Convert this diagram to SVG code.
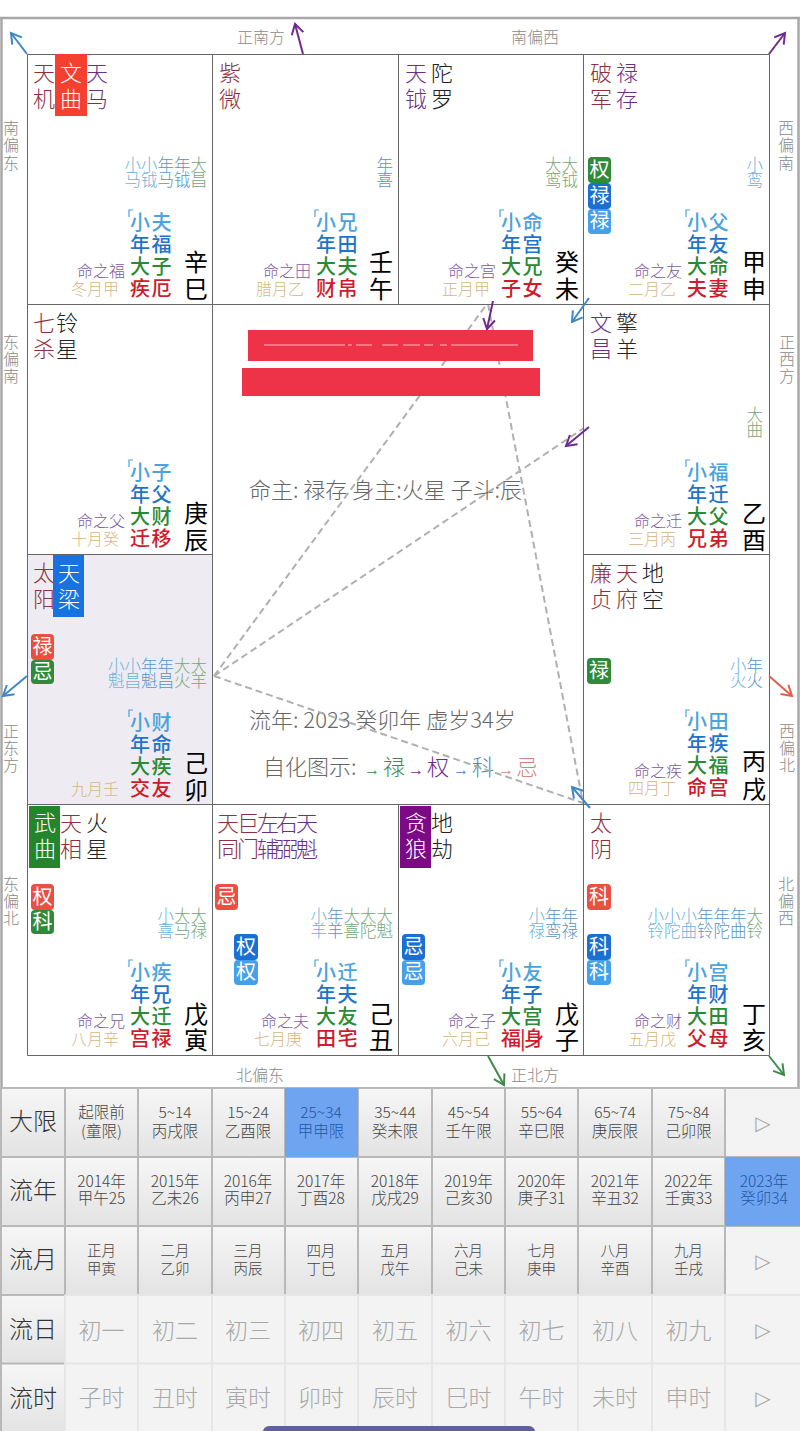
<svg xmlns="http://www.w3.org/2000/svg" width="800" height="1431" viewBox="0 0 800 1431">
<style>
text{font-family:"Noto Sans CJK SC","Noto Sans",sans-serif}
.st{font-size:22px;font-weight:300}
.r{fill:#8e3040}.p{fill:#6c2f86}.k{fill:#222}.w{fill:#fff}
.sm{font-size:16.5px;text-anchor:end;font-weight:300}
.x{fill:#6db2dc}.n{fill:#5a94c8}.d{fill:#7aa67a}
.s1,.s2,.s3,.s4{font-size:20px;letter-spacing:1.5px;font-weight:500}
.s1{fill:#4ba3dd}.s2{fill:#1f74c9}.s3{fill:#2b8a35}.s4{fill:#cf1b2c}
.gz{font-size:24px;fill:#000}
.ml{font-size:16px;fill:#7c5a9c;font-weight:300}
.mo{font-size:16px;fill:#d9b57f;font-weight:300}
.br{fill:none;stroke:#4ba3dd;stroke-width:1.2}
.b{font-size:20px;fill:#fff;text-anchor:middle}
.dir{font-size:16px;fill:#8a8a8a;font-weight:300}
.ct{font-size:22px;fill:#666;font-weight:300}
.arr{font-size:16px;font-family:"Liberation Sans",sans-serif}
.bG{fill:#2f8b3b}.bB{fill:#1c6fd2}.bL{fill:#45a0ea}.bR{fill:#ea4f43}
.conn{fill:none;stroke-width:2}
.dash{stroke:#b0b0b0;stroke-dasharray:7 4}
.hd{font-size:24px;fill:#333;text-anchor:middle;font-weight:300}
.t{font-size:15.5px;fill:#444;text-anchor:middle;font-weight:300}
.t3{font-size:14.5px;fill:#444;text-anchor:middle;font-weight:300}
.tb{font-size:15.5px;fill:#1f56a8;text-anchor:middle;font-weight:300}
.off{font-size:23px;fill:#a8a8a8;text-anchor:middle;font-weight:300}
.tri{font-size:20px;fill:#a8a8a8;text-anchor:middle;font-family:"DejaVu Sans",sans-serif}
</style>
<defs>
<linearGradient id="btn" x1="0" y1="0" x2="0" y2="1"><stop offset="0" stop-color="#f6f6f6"/><stop offset="1" stop-color="#e3e3e3"/></linearGradient>
<marker id="mB" markerWidth="16" markerHeight="16" refX="12" refY="8" orient="auto" markerUnits="userSpaceOnUse"><path d="M2 2L12 8L2 14" fill="none" stroke="#3f86c4" stroke-width="2"/></marker>
<marker id="mP" markerWidth="16" markerHeight="16" refX="12" refY="8" orient="auto" markerUnits="userSpaceOnUse"><path d="M2 2L12 8L2 14" fill="none" stroke="#6e2a8c" stroke-width="2"/></marker>
<marker id="mG" markerWidth="16" markerHeight="16" refX="12" refY="8" orient="auto" markerUnits="userSpaceOnUse"><path d="M2 2L12 8L2 14" fill="none" stroke="#3f8a4a" stroke-width="2"/></marker>
<marker id="mR" markerWidth="16" markerHeight="16" refX="12" refY="8" orient="auto" markerUnits="userSpaceOnUse"><path d="M2 2L12 8L2 14" fill="none" stroke="#e0604f" stroke-width="2"/></marker>
</defs>
<rect width="800" height="1431" fill="#fff"/>
<path d="M1.5 18V1088M798.5 18V1088M0 18H800" fill="none" stroke="#a8a8a8" stroke-width="2.5"/>

<g id="grid-bg"><rect x="28" y="555" width="184" height="249" fill="#eeecf2"/></g>

<g id="direction-labels" class="dir">
<text x="237" y="43">正南方</text><text x="511" y="43">南偏西</text>
<text x="236" y="1081">北偏东</text><text x="511" y="1081">正北方</text>
<text x="3 3 3" y="134 151 169">南偏东</text>
<text x="3 3 3" y="348 365 382">东偏南</text>
<text x="3 3 3" y="737 754 771">正东方</text>
<text x="3 3 3" y="890 907 924">东偏北</text>
<text x="778 778 778" y="134 151 169">西偏南</text>
<text x="779 779 779" y="348 365 382">正西方</text>
<text x="779 779 779" y="737 754 771">西偏北</text>
<text x="778 778 778" y="890 907 924">北偏西</text>
</g>

<g id="center">
<text class="ct" x="249" y="498">命主: 禄存 身主:火星 子斗:辰</text>
<text class="ct" x="249" y="728">流年: 2023 癸卯年 虚岁34岁</text>
<text class="ct" x="263" y="775">自化图示:</text>
<text class="arr" x="364" y="775" fill="#3f8a4a">→</text><text class="st" x="383" y="775" fill="#3f8a4a">禄</text>
<text class="arr" x="408" y="775" fill="#6e2a8c">→</text><text class="st" x="427" y="775" fill="#6e2a8c">权</text>
<text class="arr" x="453" y="775" fill="#3f86c4">→</text><text class="st" x="472" y="775" fill="#3f86c4">科</text>
<text class="arr" x="498" y="775" fill="#d8837c">→</text><text class="st" x="516" y="775" fill="#d8837c">忌</text>
</g>

<g id="dashes" class="conn dash">
<path d="M214 676L487 304"/><path d="M214 676L584 428"/><path d="M214 676L583 803"/><path d="M488 304L583 803"/>
</g>

<g id="redactions">
<rect x="248" y="330" width="285" height="31" fill="#ee3348"/>
<rect x="242" y="368" width="298" height="28" fill="#ee3348"/>
<path d="M264 345H345M348 345H352M356 345H372M382 345H398M403 345H420M424 345H433M440 345H447M451 345H518" fill="none" stroke="#f9b9bd" stroke-width="1"/>
</g>

<g id="grid-lines"><path d="M27.5 54.5H769.5V1055.5H27.5ZM212.5 54.5V1055M398.5 54.5V304M583.5 54.5V1055M398.5 804.5V1055M27.5 304.5H769.5M27.5 554.5H212.5M583.5 554.5H769.5M27.5 804.5H769.5" fill="none" stroke="#666" stroke-width="1"/></g>

<g id="palace-si" transform="translate(27,54)">
<rect x="28" y="0" width="32" height="62" fill="#f5402f"/>
<text class="st r" x="6" y="27">天</text><text class="st r" x="6" y="53">机</text>
<text class="st w" x="33" y="27">文</text><text class="st w" x="33" y="53">曲</text>
<text class="st p" x="59" y="27">天</text><text class="st p" x="59" y="53">马</text>
<text class="sm" x="180" y="117"><tspan class="x">小小</tspan><tspan class="n">年年</tspan><tspan class="d">大</tspan></text>
<text class="sm" x="180" y="132"><tspan class="x">马钺</tspan><tspan class="n">马钺</tspan><tspan class="d">昌</tspan></text>
<path class="br" d="M106 156H102V163"/>
<text class="s1" x="103" y="176">小夫</text><text class="s2" x="103" y="198">年福</text><text class="s3" x="103" y="220">大子</text><text class="s4" x="103" y="242">疾厄</text>
<text class="gz" x="157" y="217">辛</text><text class="gz" x="157" y="244">巳</text>
<text class="ml" x="50" y="223">命之福</text><text class="mo" x="44" y="241">冬月甲</text>
</g>

<g id="palace-wu" transform="translate(212,54)">
<text class="st r" x="7" y="27">紫</text><text class="st r" x="7" y="53">微</text>
<text class="sm" x="181" y="117"><tspan class="n">年</tspan></text>
<text class="sm" x="181" y="132"><tspan class="n">喜</tspan></text>
<path class="br" d="M107 156H103V163"/>
<text class="s1" x="104" y="176">小兄</text><text class="s2" x="104" y="198">年田</text><text class="s3" x="104" y="220">大夫</text><text class="s4" x="104" y="242">财帛</text>
<text class="gz" x="157" y="217">壬</text><text class="gz" x="157" y="244">午</text>
<text class="ml" x="51" y="223">命之田</text><text class="mo" x="44" y="241">腊月乙</text>
</g>

<g id="palace-wei" transform="translate(398,54)">
<text class="st p" x="7" y="27">天</text><text class="st p" x="7" y="53">钺</text>
<text class="st k" x="33" y="27">陀</text><text class="st k" x="33" y="53">罗</text>
<text class="sm" x="180" y="117"><tspan class="d">大大</tspan></text>
<text class="sm" x="180" y="132"><tspan class="d">鸾钺</tspan></text>
<path class="br" d="M106 156H102V163"/>
<text class="s1" x="103" y="176">小命</text><text class="s2" x="103" y="198">年宫</text><text class="s3" x="103" y="220">大兄</text><text class="s4" x="103" y="242">子女</text>
<text class="gz" x="157" y="217">癸</text><text class="gz" x="157" y="244">未</text>
<text class="ml" x="50" y="223">命之宫</text><text class="mo" x="44" y="241">正月甲</text>
</g>

<g id="palace-shen" transform="translate(583,54)">
<text class="st r" x="7" y="27">破</text><text class="st r" x="7" y="53">军</text>
<text class="st p" x="33" y="27">禄</text><text class="st p" x="33" y="53">存</text>
<rect class="bG" x="5" y="103" width="23" height="26" rx="4"/><text class="b" x="16.500" y="123">权</text>
<rect class="bB" x="5" y="129" width="23" height="26" rx="4"/><text class="b" x="16.500" y="149">禄</text>
<rect class="bL" x="5" y="155" width="23" height="25" rx="4"/><text class="b" x="16.500" y="174">禄</text>
<text class="sm" x="180" y="117"><tspan class="x">小</tspan></text>
<text class="sm" x="180" y="132"><tspan class="x">鸾</tspan></text>
<path class="br" d="M107 156H103V163"/>
<text class="s1" x="104" y="176">小父</text><text class="s2" x="104" y="198">年友</text><text class="s3" x="104" y="220">大命</text><text class="s4" x="104" y="242">夫妻</text>
<text class="gz" x="159" y="217">甲</text><text class="gz" x="159" y="244">申</text>
<text class="ml" x="51" y="223">命之友</text><text class="mo" x="45" y="241">二月乙</text>
</g>

<g id="palace-chen" transform="translate(27,304)">
<text class="st r" x="6" y="27">七</text><text class="st r" x="6" y="53">杀</text>
<text class="st k" x="29" y="27">铃</text><text class="st k" x="29" y="53">星</text>
<path class="br" d="M106 156H102V163"/>
<text class="s1" x="103" y="176">小子</text><text class="s2" x="103" y="198">年父</text><text class="s3" x="103" y="220">大财</text><text class="s4" x="103" y="242">迁移</text>
<text class="gz" x="157" y="218">庚</text><text class="gz" x="157" y="245">辰</text>
<text class="ml" x="50" y="223">命之父</text><text class="mo" x="44" y="241">十月癸</text>
</g>

<g id="palace-you" transform="translate(583,304)">
<text class="st p" x="7" y="27">文</text><text class="st p" x="7" y="53">昌</text>
<text class="st k" x="33" y="27">擎</text><text class="st k" x="33" y="53">羊</text>
<text class="sm" x="180" y="117"><tspan class="d">大</tspan></text>
<text class="sm" x="180" y="132"><tspan class="d">曲</tspan></text>
<path class="br" d="M107 156H103V163"/>
<text class="s1" x="104" y="176">小福</text><text class="s2" x="104" y="198">年迁</text><text class="s3" x="104" y="220">大父</text><text class="s4" x="104" y="242">兄弟</text>
<text class="gz" x="159" y="218">乙</text><text class="gz" x="159" y="245">酉</text>
<text class="ml" x="51" y="223">命之迁</text><text class="mo" x="45" y="241">三月丙</text>
</g>

<g id="palace-mao" transform="translate(27,554)">
<rect x="26" y="1" width="31" height="62" fill="#1673e0"/>
<text class="st r" x="6" y="27">太</text><text class="st r" x="6" y="53">阳</text>
<text class="st w" x="31" y="27">天</text><text class="st w" x="31" y="53">梁</text>
<rect class="bR" x="4" y="80" width="23" height="26" rx="4"/><text class="b" x="15.500" y="100">禄</text>
<rect class="bG" x="4" y="106" width="23" height="24" rx="4"/><text class="b" x="15.500" y="125">忌</text>
<text class="sm" x="180" y="118"><tspan class="x">小小</tspan><tspan class="n">年年</tspan><tspan class="d">大大</tspan></text>
<text class="sm" x="180" y="133"><tspan class="x">魁昌</tspan><tspan class="n">魁昌</tspan><tspan class="d">火羊</tspan></text>
<path class="br" d="M106 156H102V163"/>
<text class="s1" x="103" y="176">小财</text><text class="s2" x="103" y="198">年命</text><text class="s3" x="103" y="220">大疾</text><text class="s4" x="103" y="242">交友</text>
<text class="gz" x="157" y="218">己</text><text class="gz" x="157" y="245">卯</text>
<text class="mo" x="44" y="241">九月壬</text>
</g>

<g id="palace-xu" transform="translate(583,554)">
<text class="st r" x="7" y="27">廉</text><text class="st r" x="7" y="53">贞</text>
<text class="st r" x="33" y="27">天</text><text class="st r" x="33" y="53">府</text>
<text class="st k" x="59" y="27">地</text><text class="st k" x="59" y="53">空</text>
<rect class="bG" x="4" y="104" width="24" height="26" rx="4"/><text class="b" x="16" y="124">禄</text>
<text class="sm" x="180" y="118"><tspan class="x">小</tspan><tspan class="n">年</tspan></text>
<text class="sm" x="180" y="133"><tspan class="x">火</tspan><tspan class="n">火</tspan></text>
<path class="br" d="M107 156H103V163"/>
<text class="s1" x="104" y="175">小田</text><text class="s2" x="104" y="197">年疾</text><text class="s3" x="104" y="219">大福</text><text class="s4" x="104" y="241">命宫</text>
<text class="gz" x="159" y="216">丙</text><text class="gz" x="159" y="244">戌</text>
<text class="ml" x="51" y="223">命之疾</text><text class="mo" x="45" y="240">四月丁</text>
</g>

<g id="palace-yin" transform="translate(27,804)">
<rect x="2" y="2" width="31" height="62" fill="#23862c"/>
<text class="st w" x="7" y="27">武</text><text class="st w" x="7" y="53">曲</text>
<text class="st r" x="33" y="27">天</text><text class="st r" x="33" y="53">相</text>
<text class="st k" x="59" y="27">火</text><text class="st k" x="59" y="53">星</text>
<rect class="bR" x="4" y="80" width="23" height="26" rx="4"/><text class="b" x="15.500" y="100">权</text>
<rect class="bG" x="4" y="106" width="23" height="24" rx="4"/><text class="b" x="15.500" y="125">科</text>
<text class="sm" x="180" y="118"><tspan class="x">小</tspan><tspan class="d">大大</tspan></text>
<text class="sm" x="180" y="133"><tspan class="x">喜</tspan><tspan class="d">马禄</tspan></text>
<path class="br" d="M106 156H102V163"/>
<text class="s1" x="103" y="176">小疾</text><text class="s2" x="103" y="198">年兄</text><text class="s3" x="103" y="220">大迁</text><text class="s4" x="103" y="242">宫禄</text>
<text class="gz" x="157" y="219">戊</text><text class="gz" x="157" y="245">寅</text>
<text class="ml" x="50" y="223">命之兄</text><text class="mo" x="44" y="241">八月辛</text>
</g>

<g id="palace-chou" transform="translate(212,804)">
<text class="st" x="5 25 45 64 84" y="27"><tspan class="r">天巨</tspan><tspan class="p">左右天</tspan></text>
<text class="st" x="5 25 45 64 84" y="53"><tspan class="r">同门</tspan><tspan class="p">辅弼魁</tspan></text>
<rect class="bR" x="3" y="80" width="23" height="26" rx="4"/><text class="b" x="14.500" y="100">忌</text>
<rect class="bB" x="22" y="130" width="24" height="26" rx="4"/><text class="b" x="34" y="150">权</text>
<rect class="bL" x="22" y="156" width="24" height="25" rx="4"/><text class="b" x="34" y="175">权</text>
<text class="sm" x="181" y="118"><tspan class="x">小</tspan><tspan class="n">年</tspan><tspan class="d">大大大</tspan></text>
<text class="sm" x="181" y="133"><tspan class="x">羊</tspan><tspan class="n">羊</tspan><tspan class="d">喜陀魁</tspan></text>
<path class="br" d="M107 156H103V163"/>
<text class="s1" x="104" y="176">小迁</text><text class="s2" x="104" y="198">年夫</text><text class="s3" x="104" y="220">大友</text><text class="s4" x="104" y="242">田宅</text>
<text class="gz" x="157" y="219">己</text><text class="gz" x="157" y="245">丑</text>
<text class="ml" x="49" y="223">命之夫</text><text class="mo" x="42" y="241">七月庚</text>
</g>

<g id="palace-zi" transform="translate(398,804)">
<rect x="2" y="2" width="31" height="62" fill="#7d0a85"/>
<text class="st w" x="7" y="27">贪</text><text class="st w" x="7" y="53">狼</text>
<text class="st k" x="33" y="27">地</text><text class="st k" x="33" y="53">劫</text>
<rect class="bB" x="4" y="130" width="23" height="26" rx="4"/><text class="b" x="15.500" y="150">忌</text>
<rect class="bL" x="4" y="156" width="23" height="25" rx="4"/><text class="b" x="15.500" y="175">忌</text>
<text class="sm" x="180" y="118"><tspan class="x">小</tspan><tspan class="n">年年</tspan></text>
<text class="sm" x="180" y="133"><tspan class="x">禄</tspan><tspan class="n">鸾禄</tspan></text>
<path class="br" d="M106 156H102V163"/>
<text class="s1" x="103" y="176">小友</text><text class="s2" x="103" y="198">年子</text><text class="s3" x="103" y="220">大宫</text><text class="s4" x="103 122 126" y="242">福|身</text>
<text class="gz" x="157" y="219">戊</text><text class="gz" x="157" y="245">子</text>
<text class="ml" x="50" y="223">命之子</text><text class="mo" x="44" y="241">六月己</text>
</g>

<g id="palace-hai" transform="translate(583,804)">
<text class="st r" x="7" y="27">太</text><text class="st r" x="7" y="53">阴</text>
<rect class="bR" x="4" y="80" width="24" height="26" rx="4"/><text class="b" x="16" y="100">科</text>
<rect class="bB" x="4" y="130" width="24" height="26" rx="4"/><text class="b" x="16" y="150">科</text>
<rect class="bL" x="4" y="156" width="24" height="25" rx="4"/><text class="b" x="16" y="175">科</text>
<text class="sm" x="180" y="118"><tspan class="x">小小小</tspan><tspan class="n">年年年</tspan><tspan class="d">大</tspan></text>
<text class="sm" x="180" y="133"><tspan class="x">铃陀曲</tspan><tspan class="n">铃陀曲</tspan><tspan class="d">铃</tspan></text>
<path class="br" d="M107 156H103V163"/>
<text class="s1" x="104" y="176">小宫</text><text class="s2" x="104" y="198">年财</text><text class="s3" x="104" y="220">大田</text><text class="s4" x="104" y="242">父母</text>
<text class="gz" x="159" y="219">丁</text><text class="gz" x="159" y="245">亥</text>
<text class="ml" x="51" y="223">命之财</text><text class="mo" x="45" y="241">五月戊</text>
</g>

<g id="connectors" class="conn">
<path stroke="#3f86c4" marker-end="url(#mB)" d="M27 54L11 33"/>
<path stroke="#6e2a8c" marker-end="url(#mP)" d="M303 54L295 24"/>
<path stroke="#6e2a8c" marker-end="url(#mP)" d="M769 54L785 33"/>
<path stroke="#6e2a8c" marker-end="url(#mP)" d="M493 301L487 329"/>
<path stroke="#3f86c4" marker-end="url(#mB)" d="M589 298L572 322"/>
<path stroke="#6e2a8c" marker-end="url(#mP)" d="M589 427L566 446"/>
<path stroke="#e0604f" marker-end="url(#mR)" d="M769 676L792 696"/>
<path stroke="#3f86c4" marker-end="url(#mB)" d="M27 676L3 696"/>
<path stroke="#3f86c4" marker-end="url(#mB)" d="M590 808L572 787"/>
<path stroke="#3f8a4a" marker-end="url(#mG)" d="M488 1056L504 1085"/>
<path stroke="#3f8a4a" marker-end="url(#mG)" d="M769 1056L784 1075"/>
</g>

<g id="selector">
<rect x="0" y="1088" width="800" height="69" fill="url(#btn)"/>
<rect x="0" y="1157" width="800" height="69" fill="url(#btn)"/>
<rect x="0" y="1226" width="800" height="69" fill="url(#btn)"/>
<rect x="0" y="1295" width="800" height="136" fill="#f3f3f3"/>
<rect x="0" y="1295" width="65" height="68" fill="url(#btn)"/>
<rect x="0" y="1364" width="65" height="67" fill="url(#btn)"/>
<rect x="725" y="1088" width="75" height="69" fill="#f3f3f3"/>
<rect x="725" y="1226" width="75" height="69" fill="#f3f3f3"/>
<path d="M65 1088V1295M138 1088V1295M212 1088V1295M285 1088V1295M358 1088V1295M432 1088V1295M505 1088V1295M578 1088V1295M652 1088V1295M725 1088V1295M0 1088H800M0 1157H800M0 1226H800M0 1295H725M0 1363.500H65M1 1088V1431" fill="none" stroke="#b8b8b8" stroke-width="2"/>
<path d="M65 1295V1431M138 1295V1431M212 1295V1431M285 1295V1431M358 1295V1431M432 1295V1431M505 1295V1431M578 1295V1431M652 1295V1431M725 1295V1431M65 1363.500H800M65 1295H800" fill="none" stroke="#e6e6e6" stroke-width="2"/>
<rect x="285" y="1088" width="73" height="69" fill="#6fa5f0"/>
<rect x="725" y="1157" width="75" height="69" fill="#6fa5f0"/>
<text class="hd" x="33" y="1130">大限</text><text class="hd" x="33" y="1199">流年</text><text class="hd" x="33" y="1268">流月</text><text class="hd" x="33" y="1338">流日</text><text class="hd" x="33" y="1407">流时</text>

<text class="t" x="101.500" y="1118">起限前</text><text class="t" x="101.500" y="1137">(童限)</text>
<text class="t" x="175" y="1118">5~14</text><text class="t" x="175" y="1137">丙戌限</text>
<text class="t" x="248" y="1118">15~24</text><text class="t" x="248" y="1137">乙酉限</text>
<text class="tb" x="321" y="1118">25~34</text><text class="tb" x="321" y="1137">甲申限</text>
<text class="t" x="395" y="1118">35~44</text><text class="t" x="395" y="1137">癸未限</text>
<text class="t" x="468.500" y="1118">45~54</text><text class="t" x="468.500" y="1137">壬午限</text>
<text class="t" x="541.500" y="1118">55~64</text><text class="t" x="541.500" y="1137">辛巳限</text>
<text class="t" x="615" y="1118">65~74</text><text class="t" x="615" y="1137">庚辰限</text>
<text class="t" x="688.500" y="1118">75~84</text><text class="t" x="688.500" y="1137">己卯限</text>
<text class="tri" x="763" y="1130">▷</text>

<text class="t" x="101.500" y="1187">2014年</text><text class="t" x="101.500" y="1204">甲午25</text>
<text class="t" x="175" y="1187">2015年</text><text class="t" x="175" y="1204">乙未26</text>
<text class="t" x="248" y="1187">2016年</text><text class="t" x="248" y="1204">丙申27</text>
<text class="t" x="321" y="1187">2017年</text><text class="t" x="321" y="1204">丁酉28</text>
<text class="t" x="395" y="1187">2018年</text><text class="t" x="395" y="1204">戊戌29</text>
<text class="t" x="468.500" y="1187">2019年</text><text class="t" x="468.500" y="1204">己亥30</text>
<text class="t" x="541.500" y="1187">2020年</text><text class="t" x="541.500" y="1204">庚子31</text>
<text class="t" x="615" y="1187">2021年</text><text class="t" x="615" y="1204">辛丑32</text>
<text class="t" x="688.500" y="1187">2022年</text><text class="t" x="688.500" y="1204">壬寅33</text>
<text class="tb" x="764" y="1187">2023年</text><text class="tb" x="764" y="1204">癸卯34</text>

<text class="t3" x="101.500" y="1256">正月</text><text class="t3" x="101.500" y="1274">甲寅</text>
<text class="t3" x="175" y="1256">二月</text><text class="t3" x="175" y="1274">乙卯</text>
<text class="t3" x="248" y="1256">三月</text><text class="t3" x="248" y="1274">丙辰</text>
<text class="t3" x="321" y="1256">四月</text><text class="t3" x="321" y="1274">丁巳</text>
<text class="t3" x="395" y="1256">五月</text><text class="t3" x="395" y="1274">戊午</text>
<text class="t3" x="468.500" y="1256">六月</text><text class="t3" x="468.500" y="1274">己未</text>
<text class="t3" x="541.500" y="1256">七月</text><text class="t3" x="541.500" y="1274">庚申</text>
<text class="t3" x="615" y="1256">八月</text><text class="t3" x="615" y="1274">辛酉</text>
<text class="t3" x="688.500" y="1256">九月</text><text class="t3" x="688.500" y="1274">壬戌</text>
<text class="tri" x="763" y="1268">▷</text>

<text class="off" x="101.500" y="1339">初一</text><text class="off" x="175" y="1339">初二</text><text class="off" x="248" y="1339">初三</text><text class="off" x="321" y="1339">初四</text><text class="off" x="395" y="1339">初五</text><text class="off" x="468.500" y="1339">初六</text><text class="off" x="541.500" y="1339">初七</text><text class="off" x="615" y="1339">初八</text><text class="off" x="688.500" y="1339">初九</text>
<text class="tri" x="763" y="1337">▷</text>
<text class="off" x="101.500" y="1406">子时</text><text class="off" x="175" y="1406">丑时</text><text class="off" x="248" y="1406">寅时</text><text class="off" x="321" y="1406">卯时</text><text class="off" x="395" y="1406">辰时</text><text class="off" x="468.500" y="1406">巳时</text><text class="off" x="541.500" y="1406">午时</text><text class="off" x="615" y="1406">未时</text><text class="off" x="688.500" y="1406">申时</text>
<text class="tri" x="763" y="1405">▷</text>
<rect x="263" y="1426" width="272" height="12" rx="6" fill="#615da0"/>
</g>
</svg>
